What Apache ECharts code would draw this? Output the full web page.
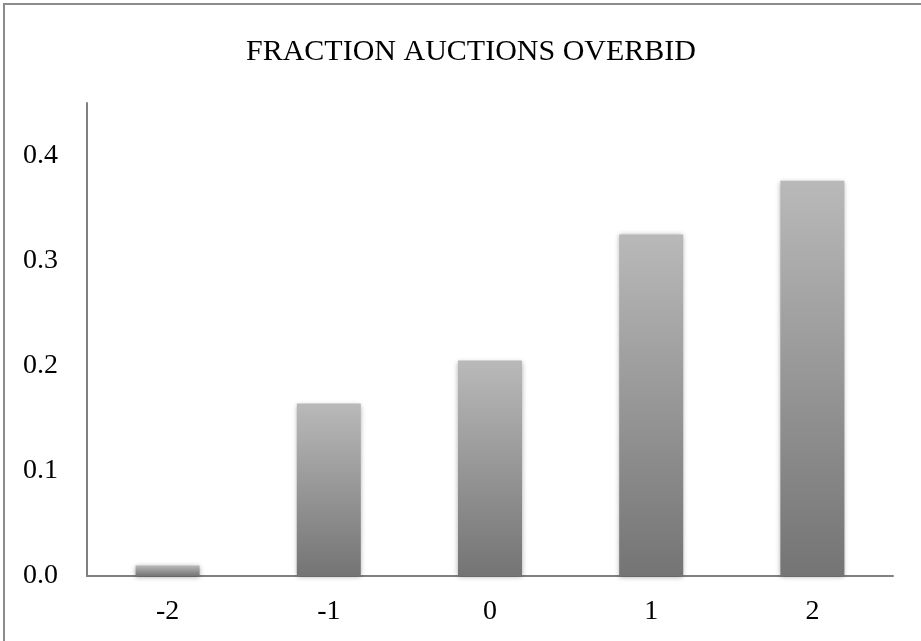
<!DOCTYPE html>
<html>
<head>
<meta charset="utf-8">
<script src="https://cdn.jsdelivr.net/npm/echarts@6/dist/echarts.min.js"></script>
<style>
  html, body { margin: 0; padding: 0; background: #fff; }
  #chart { width: 921px; height: 641px; }
</style>
</head>
<body>
<div id="chart"></div>
<script>
// Fraction of auctions overbid, by category
const categories = ['-2', '-1', '0', '1', '2'];
const fractionOverbid = [0.010, 0.164, 0.205, 0.325, 0.376];
const titleText = 'FRACTION AUCTIONS OVERBID';

const chart = echarts.init(document.getElementById('chart'), null, { renderer: 'canvas' });

const serif = '"Liberation Serif", "Times New Roman", serif';

chart.setOption({
  animation: false,
  backgroundColor: '#ffffff',
  title: {
    text: titleText,
    left: 241,
    top: 32,
    textStyle: { fontFamily: serif, fontWeight: 'normal', fontSize: 30, color: '#000' }
  },
  graphic: [{
    type: 'rect',
    shape: { x: 4, y: 4, width: 930, height: 700 },
    style: { fill: 'none', stroke: '#8c8c8c', lineWidth: 2 },
    silent: true,
    z: 100
  }],
  grid: { left: 87, right: 28, top: 103, bottom: 65, containLabel: false },
  xAxis: {
    type: 'category',
    data: categories,
    axisLine: { show: true, lineStyle: { color: '#808080', width: 2 } },
    axisTick: { show: false },
    axisLabel: { fontFamily: serif, fontSize: 28, color: '#000', margin: 22 }
  },
  yAxis: {
    type: 'value',
    min: 0,
    max: 0.45,
    interval: 0.1,
    splitLine: { show: false },
    axisLine: { show: true, lineStyle: { color: '#808080', width: 2 } },
    axisTick: { show: false },
    axisLabel: {
      fontFamily: serif, fontSize: 28, color: '#000', margin: 29,
      showMaxLabel: false,
      formatter: v => v.toFixed(1)
    }
  },
  series: [{
    type: 'bar',
    data: fractionOverbid,
    barWidth: 64,
    itemStyle: {
      color: new echarts.graphic.LinearGradient(0, 0, 0, 1, [
        { offset: 0, color: '#b9b9b9' },
        { offset: 1, color: '#747474' }
      ]),
      shadowBlur: 5,
      shadowColor: 'rgba(0,0,0,0.35)',
      shadowOffsetX: 0,
      shadowOffsetY: 1
    }
  }]
});
</script>
</body>
</html>
